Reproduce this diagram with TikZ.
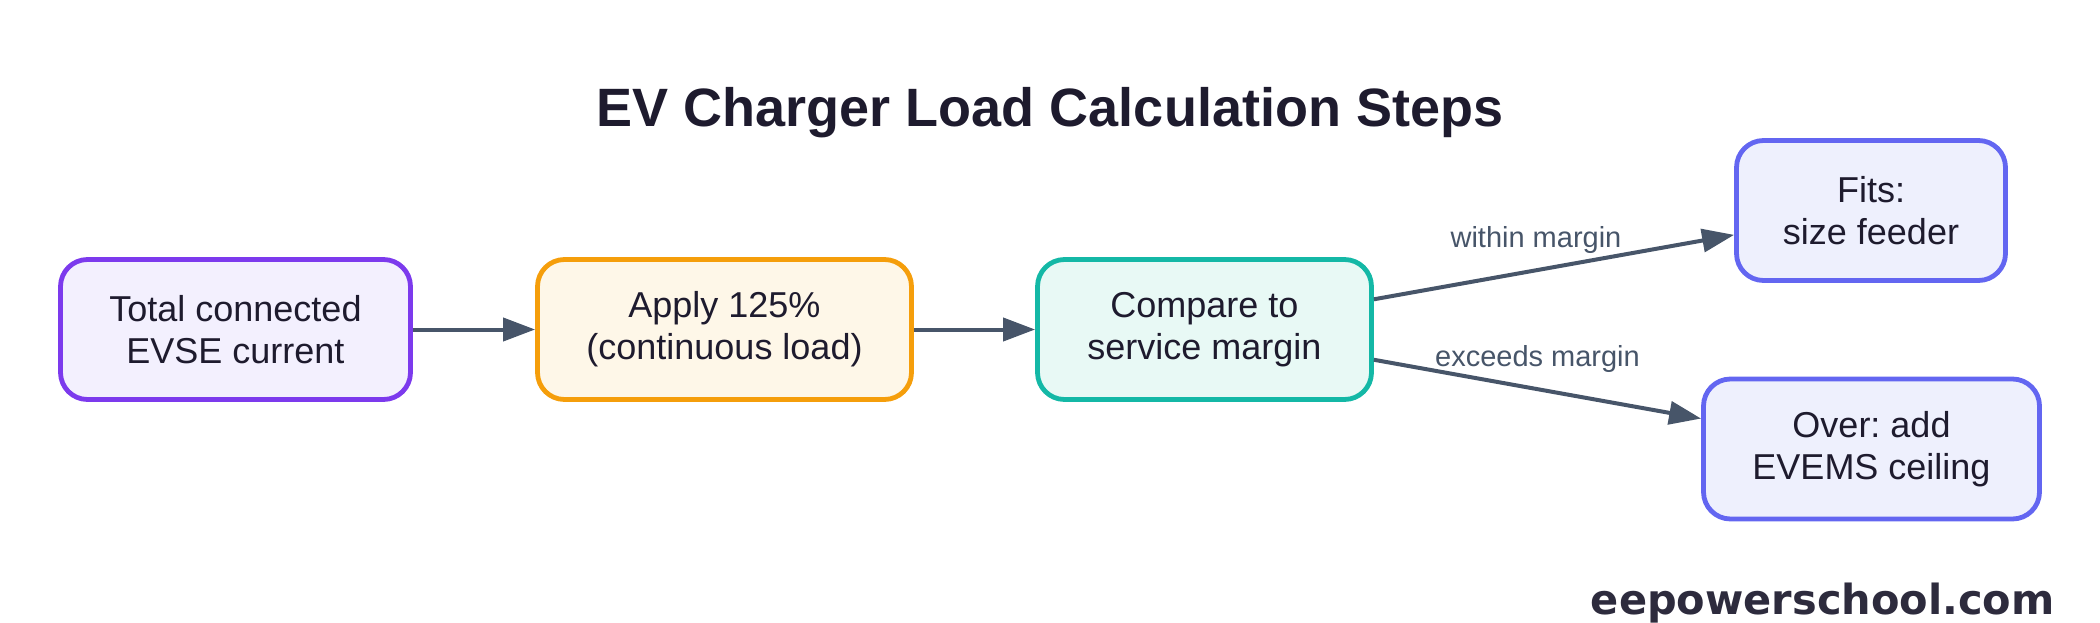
\documentclass[tikz,border=0pt]{standalone}
\usepackage{fontspec}
\setmainfont{Liberation Sans}
\newfontfamily\markfont{DejaVu Sans}
\usetikzlibrary{arrows.meta}
\frenchspacing

\definecolor{inkdark}{HTML}{1E1B2E}
\definecolor{arrowgray}{HTML}{475569}
\definecolor{violetline}{HTML}{7C3AED}
\definecolor{violetfill}{HTML}{F3F0FE}
\definecolor{amberline}{HTML}{F59E0B}
\definecolor{amberfill}{HTML}{FEF7E8}
\definecolor{tealline}{HTML}{14B8A6}
\definecolor{tealfill}{HTML}{E8F9F5}
\definecolor{indigoline}{HTML}{6366F1}
\definecolor{indigofill}{HTML}{EEF0FD}
\definecolor{markgray}{HTML}{2D2B3D}

\tikzset{
  stepbox/.style={draw, rounded corners=13.5pt, line width=2.4pt, align=center,
    minimum height=70pt, inner sep=0pt, text=inkdark, font=\fontsize{18}{21}\selectfont},
  flow/.style={draw=arrowgray, line width=2pt, -{Triangle[length=16pt,width=11.5pt]}},
  flowlabel/.style={anchor=base, yshift=11.5pt, text=arrowgray, font=\fontsize{14.5}{17}\selectfont},
}

\begin{document}
\begin{tikzpicture}[x=0.5pt,y=-0.5pt]
\useasboundingbox (0,0) rectangle (2100,622);

% title
\node[anchor=base, text=inkdark, font=\bfseries\fontsize{27}{32}\selectfont] (title) at (1050,126) {EV Charger Load Calculation Steps};

% steps
\node[stepbox, draw=violetline, fill=violetfill, minimum width=175pt] (total) at (235.5,329.5) {Total connected\\EVSE current};
\node[stepbox, draw=amberline, fill=amberfill, minimum width=187pt] (apply) at (724.5,329.5) {Apply 125\%\\(continuous load)};
\node[stepbox, draw=tealline, fill=tealfill, minimum width=167pt] (compare) at (1204.5,329.5) {Compare to\\service margin};
\node[stepbox, draw=indigoline, fill=indigofill, minimum width=134.5pt] (fits) at (1871,210.5) {Fits:\\size feeder};
\node[stepbox, draw=indigoline, fill=indigofill, minimum width=168pt] (over) at (1871.5,449) {Over: add\\EVEMS ceiling};

% connectors
\draw[flow] (total) -- (apply);
\draw[flow] (apply) -- (compare);
\draw[flow] (compare) -- node[flowlabel, pos=0.45] {within margin} (fits);
\draw[flow] (compare) -- node[flowlabel, pos=0.5] {exceeds margin} (over);

% site mark
\node[anchor=base east, inner sep=0pt, text=markgray, font=\markfont\bfseries\fontsize{20.75}{24}\selectfont] (site) at (2055,614) {eepowerschool.com};

\end{tikzpicture}
\end{document}
